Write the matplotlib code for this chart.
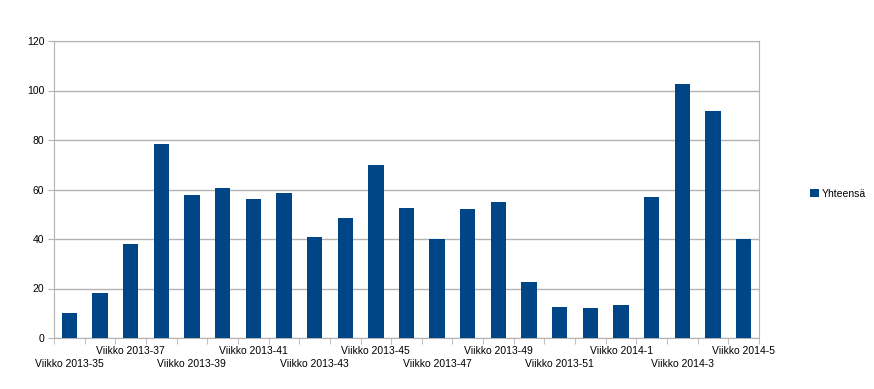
import matplotlib.pyplot as plt
import numpy as np

# viikot ja arvot
viikot = ['Viikko 2013-%d' % w for w in range(35, 53)] + ['Viikko 2014-%d' % w for w in range(1, 6)]
yhteensa = [10, 18, 38, 78.4, 57.8, 60.6, 56.2, 58.6, 40.8, 48.5, 69.9, 52.5, 40,
            52.1, 55, 22.6, 12.5, 12.1, 13.3, 57, 102.6, 91.7, 40]
sarja = 'Yhteensä'

plt.rcParams['font.family'] = ['Liberation Sans', 'DejaVu Sans']
plt.rcParams['font.size'] = 7.5

fig = plt.figure(figsize=(8.74, 3.89), dpi=100)
ax = fig.add_axes([54/874, 1-338/389, 705/874, 297/389])

x = np.arange(len(viikot))
ax.bar(x, yhteensa, width=0.5, color='#004586', label=sarja, zorder=3)

ax.set_xlim(-0.5, len(viikot)-0.5)
ax.set_ylim(0, 120)
ax.set_yticks(range(0, 121, 20))
ax.yaxis.grid(True, color='#b3b3b3', linewidth=1, zorder=0)

# nimiöt joka toiselle, porrastettuna kahteen riviin
ylarivi = list(range(2, len(viikot), 4))
alarivi = list(range(0, len(viikot), 4))
ax.set_xticks(ylarivi)
ax.set_xticklabels([viikot[i] for i in ylarivi])
ax.tick_params(axis='x', which='major', length=0, pad=6)
for i in alarivi:
    ax.annotate(viikot[i], xy=(i, 0), xycoords=('data', 'axes fraction'),
                xytext=(0, -15), textcoords='offset points', ha='center', va='top',
                annotation_clip=False)
ax.set_xticks(np.arange(-0.5, len(viikot)), minor=True)
ax.tick_params(axis='x', which='minor', length=4, color='#b3b3b3', direction='out')
ax.tick_params(axis='y', length=4, color='#b3b3b3', pad=3)

for s in ax.spines.values():
    s.set_color('#b3b3b3')

fig.legend(loc='center left', bbox_to_anchor=(805/874, 1-194/389), frameon=False,
           handlelength=0.8, handleheight=0.8, handletextpad=0.3, borderpad=0)

fig.savefig('out.png', dpi=100)
